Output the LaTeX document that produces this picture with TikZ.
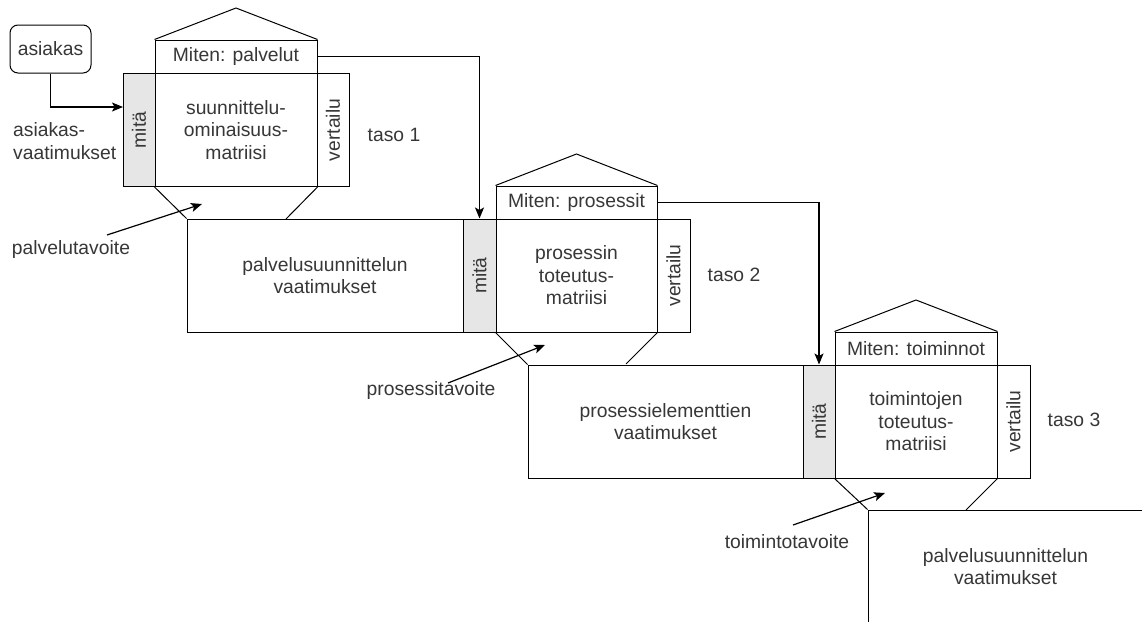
\documentclass[tikz,border=0pt]{standalone}
\usepackage{fontspec}
\usepackage{graphicx}
\setmainfont{Liberation Sans}
\usetikzlibrary{arrows.meta}
\definecolor{txt}{RGB}{55,55,55}
\definecolor{mitagrey}{RGB}{230,230,230}
\newcommand\lblfont{\fontsize{19.3}{22.5}\selectfont}
\tikzset{
  box/.style={draw=black, line width=1pt, inner sep=0pt, align=center,
    font=\lblfont, text=txt},
  mitabox/.style={box, fill=mitagrey, minimum width=32pt, minimum height=113pt},
  cmpbox/.style={box, minimum width=32pt, minimum height=113pt},
  matbox/.style={box, minimum width=162pt, minimum height=113pt},
  howbox/.style={box, minimum width=162pt, minimum height=33pt},
  reqbox/.style={box, minimum width=276pt, minimum height=113pt},
  lbl/.style={font=\lblfont, text=txt, inner sep=0pt, align=center},
  conn/.style={line width=1pt, draw=black},
  arr/.style={line width=1.2pt, draw=black,
    -{Stealth[length=11pt, width=9pt, inset=2.5pt]}},
}
\begin{document}
\begin{tikzpicture}[x=1pt, y=-1pt]
\useasboundingbox (0,0) rectangle (1142,621);
\clip (0,0) rectangle (1142,621);
\fill[white] (0,0) rectangle (1142,621);

% ---- customer and level 1 ----
\node[box, rounded corners=8pt, minimum width=81pt, minimum height=48pt] (cust) at (50.5,49) {asiakas};
\node[lbl, align=left, anchor=west] (custreq) at (13,141) {asiakas-\\vaatimukset};

\node[mitabox] (m1) at (139,130) {\rotatebox{90}{mitä}};
\node[matbox]  (x1) at (236,130) {suunnittelu-\\ominaisuus-\\matriisi};
\node[cmpbox]  (v1) at (333,130) {\rotatebox{90}{vertailu}};
\node[howbox]  (h1) at (236,56.5) {Miten: palvelut};
\coordinate (r1) at (236,8);
\node[lbl] (l1) at (394,135) {taso 1};

\coordinate (c1in) at (123,107);
\draw[arr] (cust.south) |- (c1in);

% ---- level 2 ----
\node[reqbox] (q2) at (325,275.5) {palvelusuunnittelun\\vaatimukset};
\node[mitabox, minimum width=33pt] (m2) at (479.5,275.5) {\rotatebox{90}{mitä}};
\node[matbox, minimum width=161pt] (x2) at (576.5,275.5) {prosessin\\toteutus-\\matriisi};
\node[cmpbox, minimum width=33pt] (v2) at (673.5,275.5) {\rotatebox{90}{vertailu}};
\node[howbox, minimum width=161pt] (h2) at (576.5,202.5) {Miten: prosessit};
\coordinate (r2) at (576.5,154);
\node[lbl] (l2) at (734,275) {taso 2};

% ---- level 3 ----
\node[reqbox, minimum width=275pt] (q3) at (665.5,421.5) {prosessielementtien\\vaatimukset};
\node[mitabox] (m3) at (819,421.5) {\rotatebox{90}{mitä}};
\node[matbox]  (x3) at (916,421.5) {toimintojen\\toteutus-\\matriisi};
\node[cmpbox, minimum width=33pt] (v3) at (1013.5,421.5) {\rotatebox{90}{vertailu}};
\node[howbox]  (h3) at (916,348.5) {Miten: toiminnot};
\coordinate (r3) at (916,300);
\node[lbl] (l3) at (1074,420) {taso 3};

% ---- level 4 (continues beyond the page) ----
\node[reqbox, minimum width=275pt] (q4) at (1005.5,566.5) {palvelusuunnittelun\\vaatimukset};

% roofs over the "how" boxes
\draw[conn] (h1.north west) -- (r1) -- (h1.north east);
\draw[conn] (h2.north west) -- (r2) -- (h2.north east);
\draw[conn] (h3.north west) -- (r3) -- (h3.north east);

% funnels from each matrix down to the next requirements box
\coordinate (f1) at (286,219);
\coordinate (f2) at (626,364);
\coordinate (f3) at (966,510);
\draw[conn] (x1.south west) -- (q2.north west);
\draw[conn] (x1.south east) -- (f1);
\draw[conn] (x2.south west) -- (q3.north west);
\draw[conn] (x2.south east) -- (f2);
\draw[conn] (x3.south west) -- (q4.north west);
\draw[conn] (x3.south east) -- (f3);

% "how" of one level becomes "what" of the next
\draw[arr] (h1.east) -| (m2.north);
\draw[arr] (h2.east) -| (m3.north);

% goal labels
\node[lbl] (t1) at (71,250) {palvelutavoite};
\node[lbl] (t2) at (431,391) {prosessitavoite};
\node[lbl] (t3) at (787,542) {toimintotavoite};
\coordinate (t1s) at (107,235);
\coordinate (t1e) at (202,204);
\coordinate (t2s) at (448,383);
\coordinate (t2e) at (545,345);
\coordinate (t3s) at (793,525);
\coordinate (t3e) at (885,493);
\draw[arr] (t1s) -- (t1e);
\draw[arr] (t2s) -- (t2e);
\draw[arr] (t3s) -- (t3e);
\end{tikzpicture}
\end{document}
